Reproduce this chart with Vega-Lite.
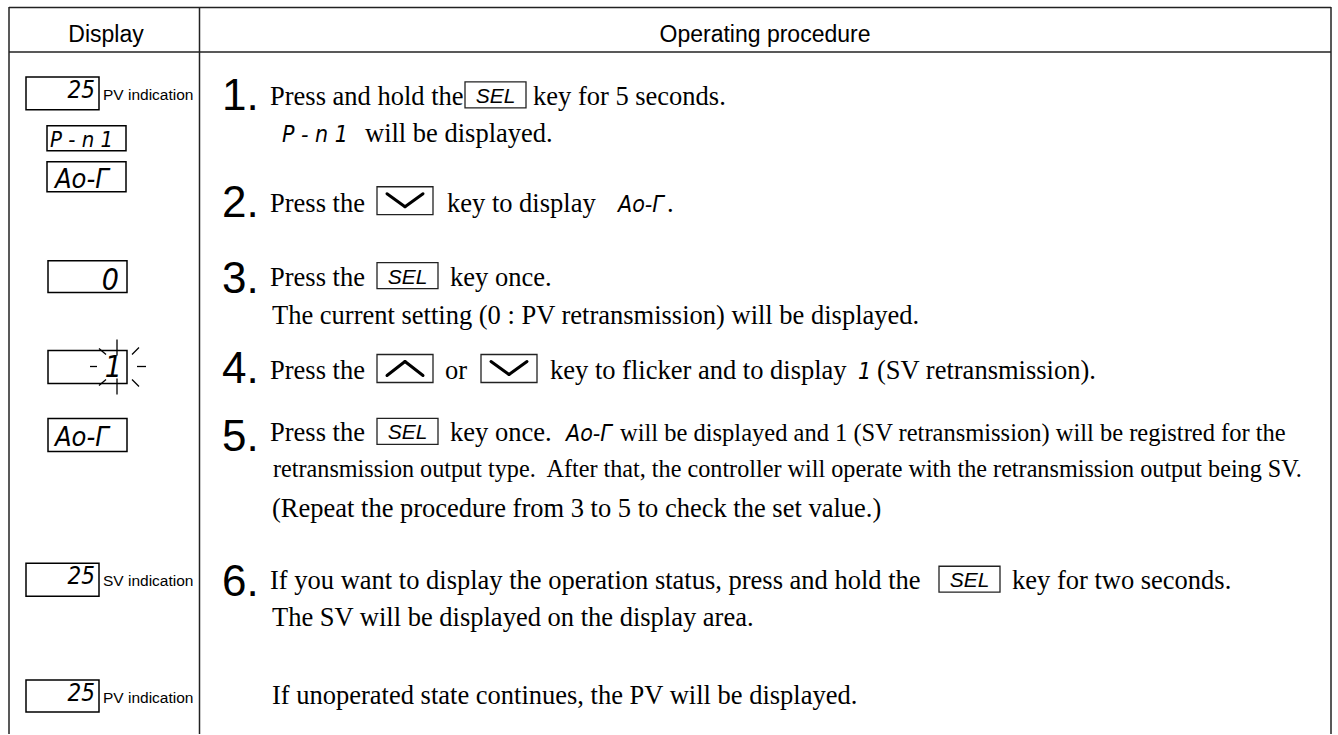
{
  "$schema": "https://vega.github.io/schema/vega-lite/v6.json",
  "width": 1338,
  "height": 735,
  "autosize": {"type": "fit", "contains": "padding"},
  "padding": 0,
  "background": "white",
  "config": {"view": {"stroke": null}},
  "datasets": {
    "lines": [
      {"role": "grid", "x": 9, "y": 7.5, "x2": 1331, "y2": 7.5},
      {"role": "grid", "x": 9, "y": 52, "x2": 1331, "y2": 52},
      {"role": "grid", "x": 9, "y": 7, "x2": 9, "y2": 735},
      {"role": "grid", "x": 199.5, "y": 7, "x2": 199.5, "y2": 735},
      {"role": "grid", "x": 1331, "y": 7, "x2": 1331, "y2": 735},
      {"role": "chev", "x": 387, "y": 194, "x2": 405, "y2": 207},
      {"role": "chev", "x": 405, "y": 207, "x2": 423, "y2": 194},
      {"role": "chev", "x": 387, "y": 376, "x2": 405, "y2": 362},
      {"role": "chev", "x": 405, "y": 362, "x2": 423, "y2": 376},
      {"role": "chev", "x": 491, "y": 362, "x2": 509, "y2": 375},
      {"role": "chev", "x": 509, "y": 375, "x2": 527, "y2": 362},
      {"role": "ray", "x": 117, "y": 340, "x2": 117, "y2": 356},
      {"role": "ray", "x": 117, "y": 379, "x2": 117, "y2": 395},
      {"role": "ray", "x": 90, "y": 367, "x2": 97, "y2": 367},
      {"role": "ray", "x": 137, "y": 367, "x2": 146, "y2": 367},
      {"role": "ray", "x": 99, "y": 349, "x2": 106, "y2": 355},
      {"role": "ray", "x": 132, "y": 355, "x2": 139, "y2": 348},
      {"role": "ray", "x": 99, "y": 386, "x2": 106, "y2": 380},
      {"role": "ray", "x": 132, "y": 380, "x2": 139, "y2": 387}
    ],
    "boxes": [
      {"role": "disp", "x": 26, "y": 77, "x2": 99, "y2": 110},
      {"role": "disp", "x": 47, "y": 126, "x2": 126, "y2": 151},
      {"role": "disp", "x": 47, "y": 162, "x2": 126, "y2": 192},
      {"role": "disp", "x": 48, "y": 261, "x2": 127, "y2": 293},
      {"role": "disp", "x": 48, "y": 351, "x2": 127, "y2": 384},
      {"role": "disp", "x": 48, "y": 419, "x2": 127, "y2": 452},
      {"role": "disp", "x": 26, "y": 564, "x2": 99, "y2": 597},
      {"role": "disp", "x": 26, "y": 681, "x2": 99, "y2": 713},
      {"role": "key", "x": 465, "y": 82, "x2": 526, "y2": 108},
      {"role": "key", "x": 377, "y": 187, "x2": 433, "y2": 215},
      {"role": "key", "x": 377, "y": 263, "x2": 438, "y2": 289},
      {"role": "key", "x": 377, "y": 355, "x2": 433, "y2": 383},
      {"role": "key", "x": 481, "y": 355, "x2": 537, "y2": 383},
      {"role": "key", "x": 377, "y": 419, "x2": 438, "y2": 445},
      {"role": "key", "x": 939, "y": 567, "x2": 1000, "y2": 593}
    ],
    "texts": [
      {"role": "head", "x": 106, "y": 42, "text": "Display"},
      {"role": "head", "x": 765, "y": 42, "text": "Operating procedure"},
      {"role": "label", "x": 103, "y": 100, "text": "PV indication"},
      {"role": "label", "x": 103, "y": 587, "text": "SV indication"},
      {"role": "label", "x": 103, "y": 704, "text": "PV indication"},
      {"role": "segsmr", "x": 95, "y": 98, "text": "25"},
      {"role": "segsmr", "x": 95, "y": 585, "text": "25"},
      {"role": "segsmr", "x": 95, "y": 702, "text": "25"},
      {"role": "segsml", "x": 50, "y": 147, "text": "P - n 1"},
      {"role": "seglgl", "x": 55, "y": 188, "text": "Ao-Γ"},
      {"role": "seglgr", "x": 119, "y": 290, "text": "0"},
      {"role": "seglgr", "x": 122, "y": 378, "text": "1"},
      {"role": "seglgl", "x": 55, "y": 447, "text": "Ao-Γ"},
      {"role": "segin", "x": 282, "y": 142, "text": "P - n 1"},
      {"role": "segin", "x": 618, "y": 212, "text": "Ao-Γ"},
      {"role": "segin", "x": 858, "y": 380, "text": "1"},
      {"role": "segin", "x": 566, "y": 442, "text": "Ao-Γ"},
      {"role": "keytext", "x": 495.5, "y": 103, "text": "SEL"},
      {"role": "keytext", "x": 407.5, "y": 284, "text": "SEL"},
      {"role": "keytext", "x": 407.5, "y": 440, "text": "SEL"},
      {"role": "keytext", "x": 969.5, "y": 588, "text": "SEL"},
      {"role": "num", "x": 222, "y": 110, "text": "1."},
      {"role": "num", "x": 222, "y": 217, "text": "2."},
      {"role": "num", "x": 222, "y": 293, "text": "3."},
      {"role": "num", "x": 222, "y": 384, "text": "4."},
      {"role": "num", "x": 222, "y": 452, "text": "5."},
      {"role": "num", "x": 222, "y": 597, "text": "6."},
      {"role": "body", "x": 270, "y": 105, "text": "Press and hold the"},
      {"role": "body", "x": 533, "y": 105, "text": "key for 5 seconds."},
      {"role": "body", "x": 365, "y": 142, "text": "will be displayed."},
      {"role": "body", "x": 270, "y": 212, "text": "Press the"},
      {"role": "body", "x": 447, "y": 212, "text": "key to display"},
      {"role": "body", "x": 667, "y": 212, "text": "."},
      {"role": "body", "x": 270, "y": 286, "text": "Press the"},
      {"role": "body", "x": 450, "y": 286, "text": "key once."},
      {"role": "body", "x": 272, "y": 324, "text": "The current setting (0 : PV retransmission) will be displayed."},
      {"role": "body", "x": 270, "y": 380, "text": "Press the"},
      {"role": "body", "x": 445, "y": 380, "text": "or"},
      {"role": "body", "x": 550, "y": 380, "text": "key to flicker and to display"},
      {"role": "body", "x": 877, "y": 380, "text": "(SV retransmission)."},
      {"role": "body", "x": 270, "y": 442, "text": "Press the"},
      {"role": "body", "x": 450, "y": 442, "text": "key once."},
      {"role": "bodyc1", "x": 620, "y": 442, "text": "will be displayed and 1 (SV retransmission) will be registred for the"},
      {"role": "bodyc2", "x": 273, "y": 478, "text": "retransmission output type.\u00a0 After that, the controller will operate with the retransmission output being SV."},
      {"role": "body", "x": 272, "y": 518, "text": "(Repeat the procedure from 3 to 5 to check the set value.)"},
      {"role": "body", "x": 270, "y": 590, "text": "If you want to display the operation status, press and hold the"},
      {"role": "body", "x": 1012, "y": 590, "text": "key for two seconds."},
      {"role": "body", "x": 272, "y": 627, "text": "The SV will be displayed on the display area."},
      {"role": "body", "x": 272, "y": 705, "text": "If unoperated state continues, the PV will be displayed."}
    ]
  },
  "encoding": {
    "x": {"field": "x", "type": "quantitative", "scale": {"domain": [0, 1338], "nice": false, "zero": false}, "axis": null},
    "y": {"field": "y", "type": "quantitative", "scale": {"domain": [0, 735], "nice": false, "zero": false, "reverse": true}, "axis": null}
  },
  "layer": [
    {
      "data": {"name": "lines"},
      "transform": [{"filter": "datum.role === 'grid'"}],
      "mark": {"type": "rule", "color": "#222222", "strokeWidth": 1.5},
      "encoding": {"x2": {"field": "x2"}, "y2": {"field": "y2"}}
    },
    {
      "data": {"name": "boxes"},
      "transform": [{"filter": "datum.role === 'disp'"}],
      "mark": {"type": "rect", "fill": "white", "stroke": "black", "strokeWidth": 1.5},
      "encoding": {"x2": {"field": "x2"}, "y2": {"field": "y2"}}
    },
    {
      "data": {"name": "boxes"},
      "transform": [{"filter": "datum.role === 'key'"}],
      "mark": {"type": "rect", "fill": "white", "stroke": "#222222", "strokeWidth": 1.3},
      "encoding": {"x2": {"field": "x2"}, "y2": {"field": "y2"}}
    },
    {
      "data": {"name": "lines"},
      "transform": [{"filter": "datum.role === 'chev'"}],
      "mark": {"type": "rule", "color": "black", "strokeWidth": 3, "strokeCap": "round"},
      "encoding": {"x2": {"field": "x2"}, "y2": {"field": "y2"}}
    },
    {
      "data": {"name": "lines"},
      "transform": [{"filter": "datum.role === 'ray'"}],
      "mark": {"type": "rule", "color": "black", "strokeWidth": 1.3},
      "encoding": {"x2": {"field": "x2"}, "y2": {"field": "y2"}}
    },
    {
      "data": {"name": "texts"},
      "transform": [{"filter": "datum.role === 'head'"}],
      "mark": {"type": "text", "font": "Liberation Sans, Arial, sans-serif", "fontSize": 23, "align": "center", "baseline": "alphabetic", "color": "black"},
      "encoding": {"text": {"field": "text"}}
    },
    {
      "data": {"name": "texts"},
      "transform": [{"filter": "datum.role === 'label'"}],
      "mark": {"type": "text", "font": "Liberation Sans, Arial, sans-serif", "fontSize": 15.5, "align": "left", "baseline": "alphabetic", "color": "black"},
      "encoding": {"text": {"field": "text"}}
    },
    {
      "data": {"name": "texts"},
      "transform": [{"filter": "datum.role === 'segsmr'"}],
      "mark": {"type": "text", "font": "DejaVu Sans Condensed, sans-serif", "fontStyle": "italic", "fontSize": 24, "align": "right", "baseline": "alphabetic", "color": "black"},
      "encoding": {"text": {"field": "text"}}
    },
    {
      "data": {"name": "texts"},
      "transform": [{"filter": "datum.role === 'segsml'"}],
      "mark": {"type": "text", "font": "DejaVu Sans Condensed, sans-serif", "fontStyle": "italic", "fontSize": 22, "align": "left", "baseline": "alphabetic", "color": "black"},
      "encoding": {"text": {"field": "text"}}
    },
    {
      "data": {"name": "texts"},
      "transform": [{"filter": "datum.role === 'seglgl'"}],
      "mark": {"type": "text", "font": "DejaVu Sans Condensed, sans-serif", "fontStyle": "italic", "fontSize": 27, "align": "left", "baseline": "alphabetic", "color": "black"},
      "encoding": {"text": {"field": "text"}}
    },
    {
      "data": {"name": "texts"},
      "transform": [{"filter": "datum.role === 'seglgr'"}],
      "mark": {"type": "text", "font": "DejaVu Sans Condensed, sans-serif", "fontStyle": "italic", "fontSize": 30, "align": "right", "baseline": "alphabetic", "color": "black"},
      "encoding": {"text": {"field": "text"}}
    },
    {
      "data": {"name": "texts"},
      "transform": [{"filter": "datum.role === 'segin'"}],
      "mark": {"type": "text", "font": "DejaVu Sans Condensed, sans-serif", "fontStyle": "italic", "fontSize": 23, "align": "left", "baseline": "alphabetic", "color": "black"},
      "encoding": {"text": {"field": "text"}}
    },
    {
      "data": {"name": "texts"},
      "transform": [{"filter": "datum.role === 'keytext'"}],
      "mark": {"type": "text", "font": "Liberation Sans, Arial, sans-serif", "fontStyle": "italic", "fontSize": 21, "align": "center", "baseline": "alphabetic", "color": "black"},
      "encoding": {"text": {"field": "text"}}
    },
    {
      "data": {"name": "texts"},
      "transform": [{"filter": "datum.role === 'num'"}],
      "mark": {"type": "text", "font": "Liberation Sans, Arial, sans-serif", "fontSize": 44, "align": "left", "baseline": "alphabetic", "color": "black"},
      "encoding": {"text": {"field": "text"}}
    },
    {
      "data": {"name": "texts"},
      "transform": [{"filter": "datum.role === 'body'"}],
      "mark": {"type": "text", "font": "Liberation Serif, Times New Roman, serif", "fontSize": 26.5, "align": "left", "baseline": "alphabetic", "color": "black"},
      "encoding": {"text": {"field": "text"}}
    },
    {
      "data": {"name": "texts"},
      "transform": [{"filter": "datum.role === 'bodyc1'"}],
      "mark": {"type": "text", "font": "Liberation Serif, Times New Roman, serif", "fontSize": 24.5, "align": "left", "baseline": "alphabetic", "color": "black"},
      "encoding": {"text": {"field": "text"}}
    },
    {
      "data": {"name": "texts"},
      "transform": [{"filter": "datum.role === 'bodyc2'"}],
      "mark": {"type": "text", "font": "Liberation Serif, Times New Roman, serif", "fontSize": 24.2, "align": "left", "baseline": "alphabetic", "color": "black"},
      "encoding": {"text": {"field": "text"}}
    }
  ]
}
